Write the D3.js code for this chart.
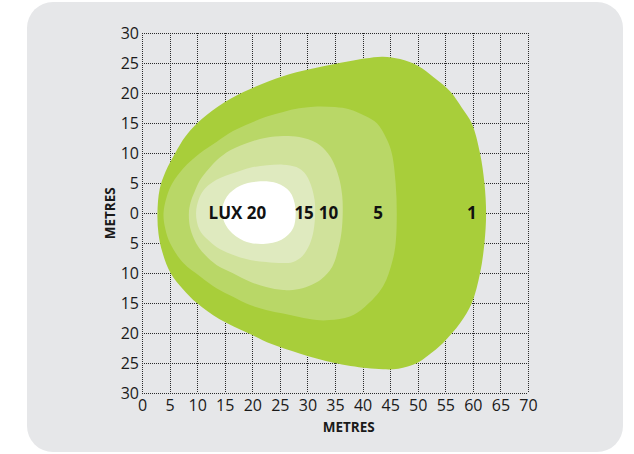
<!DOCTYPE html>
<html>
<head>
<meta charset="utf-8">
<script src="https://cdn.jsdelivr.net/npm/d3@7/dist/d3.min.js"></script>
<style>
  html, body { margin: 0; padding: 0; background: #ffffff; }
  svg { display: block; }
  .tick-label { font-family: "Open Sans", sans-serif; font-size: 16px; fill: #1a1a1a; }
  .axis-title { font-family: "Open Sans", sans-serif; font-size: 13.5px; font-weight: 700; fill: #1a1a1a; }
  .lux-label { font-family: "Open Sans", sans-serif; font-size: 17px; font-weight: 700; fill: #111; }
</style>
</head>
<body>
<svg id="chart" width="634" height="454"></svg>
<script>
// Axis ticks (metres)
const xTicks = [0, 5, 10, 15, 20, 25, 30, 35, 40, 45, 50, 55, 60, 65, 70];
const yTicks = [30, 25, 20, 15, 10, 5, 0, -5, -10, -15, -20, -25, -30];

// Illuminance levels, outermost first
const luxLevels = [1, 5, 10, 15, 20];
const luxColors = ["#a8ce3a", "#b9d767", "#d0e29b", "#dfeabf", "#ffffff"];

// Isolux contour outlines, [distance ahead, lateral offset] in metres
const lux1 = [[2.8,0],[3.2,4],[4.3,7],[6,10],[7.8,12.7],[10,15],[13.8,17.8],[18.4,20.2],[23,22],[28,23.5],[34.5,24.8],[40.4,25.8],[43.7,26.1],[46.8,25.7],[50,24.6],[53,22.6],[55.9,20.3],[58,17.6],[59.8,15],[61.3,10],[62.1,5],[62.4,0],[62.1,-5],[61.3,-10],[59.8,-15],[57.7,-18.3],[54.6,-21.6],[52,-23.6],[49.8,-25],[46.5,-25.9],[43.7,-26],[40.7,-25.8],[34.7,-24.9],[28.7,-23.4],[23.5,-21.8],[19.3,-20],[14,-17.6],[10,-15],[7.4,-12.6],[5.2,-10],[3.7,-6.5],[3,-3.5]];
const lux5 = [[3.9,0],[4.5,2.8],[5.5,5],[7.5,7.5],[10.5,10],[13.5,11.9],[16.5,13.7],[19.6,15],[22.5,16.1],[25.6,16.9],[28.5,17.5],[31.7,17.8],[35,17.7],[37.7,17.3],[40.5,16.2],[42.6,15],[44.3,12.5],[45.3,10],[46,5],[46.2,0],[46,-5],[45.4,-8],[43.7,-12.2],[40.4,-15.6],[37.7,-17.2],[34,-17.8],[31.7,-17.8],[28.5,-17.3],[25.6,-16.7],[22.5,-16.1],[19.6,-15.3],[16.5,-13.9],[13.5,-12.5],[10.5,-10.5],[7.5,-8.3],[5.1,-5],[4.2,-2.5]];
const lux10 = [[8.5,0],[8.8,1.8],[9.5,3.5],[10.5,5.5],[12,7.3],[13.5,8.8],[16,10.5],[19.6,11.9],[22.5,12.6],[25.6,12.9],[28.5,12.7],[31.7,11.7],[33.7,10],[34.7,8.5],[35.7,6],[36.3,3],[36.4,0],[36.2,-3],[35.7,-5.5],[34.5,-8.9],[32.5,-11],[30.8,-11.9],[28.5,-12.6],[25.6,-12.8],[22.5,-12.3],[19.6,-11.4],[16.5,-10],[13.5,-8.6],[11.5,-7],[10.3,-5.7],[9.4,-4.2],[8.7,-2.3]];
const lux15 = [[9.8,0],[10.4,2.6],[11.5,4.2],[13.5,5.6],[16.9,6.8],[19.6,7.6],[22.7,8],[25.6,8.1],[28,7.7],[29.5,6.7],[30.6,4.8],[31.3,2.2],[31.4,0],[31.1,-3],[30.4,-5.2],[29.1,-7.1],[27.4,-8.1],[25.6,-8.3],[22.5,-8.1],[19.6,-7.8],[16.1,-6.8],[13.5,-5.6],[11.8,-4.3],[10.4,-2.7]];
const lux20 = [[14.5,0],[15.4,2.8],[17.8,4.6],[21,5.3],[24.5,5],[26.8,3.6],[27.8,1],[27.4,-2.5],[25.3,-4.4],[22,-5.1],[18.5,-4.6],[15.8,-2.8]];
const contours = [lux1, lux5, lux10, lux15, lux20];

// Label positions along the centre line (metres ahead)
const labelText = ["LUX 20", "15", "10", "5", "1"];
const labelX = [17.3, 29.4, 33.8, 42.8, 59.8];

const svg = d3.select("#chart");

// Rounded grey panel behind the plot
svg.append("rect")
  .attr("x", 27).attr("y", 2)
  .attr("width", 596).attr("height", 450)
  .attr("rx", 26).attr("ry", 26)
  .attr("fill", "#e6e7e9");

const x = d3.scaleLinear().domain([0, 70]).range([142, 528]);
const y = d3.scaleLinear().domain([-30, 30]).range([393.3, 33.3]);

// Dotted grid, including the frame lines
const grid = svg.append("g")
  .attr("stroke", "#2a2a2a")
  .attr("stroke-width", 1)
  .attr("stroke-dasharray", "1,1")
  .attr("shape-rendering", "crispEdges");

grid.selectAll("line.v").data(xTicks).join("line")
  .attr("class", "v")
  .attr("x1", d => Math.round(x(d)) + 0.5).attr("x2", d => Math.round(x(d)) + 0.5)
  .attr("y1", y(30)).attr("y2", y(-30));

grid.selectAll("line.h").data(yTicks).join("line")
  .attr("class", "h")
  .attr("y1", d => Math.round(y(d)) + 0.5).attr("y2", d => Math.round(y(d)) + 0.5)
  .attr("x1", x(0)).attr("x2", x(70));

// Isolux areas, drawn outermost first
const line = d3.line()
  .x(d => x(d[0]))
  .y(d => y(d[1]))
  .curve(d3.curveCatmullRomClosed.alpha(0.5));

svg.append("g").selectAll("path").data(contours).join("path")
  .attr("d", d => line(d))
  .attr("fill", (d, i) => luxColors[i]);

// Axes (labels only; the grid carries the lines)
const xAxis = d3.axisBottom(x).tickValues(xTicks).tickSize(0).tickPadding(0).tickFormat(d3.format("d"));
const gx = svg.append("g").attr("transform", `translate(0, ${y(-30) + 6})`).call(xAxis);
gx.select(".domain").remove();
gx.selectAll("text").attr("class", "tick-label").attr("dy", "0.71em").attr("fill", null).attr("y", 0);

const yAxis = d3.axisLeft(y).tickValues(yTicks).tickSize(0).tickPadding(3).tickFormat(d => Math.abs(d));
const gy = svg.append("g").attr("transform", `translate(${x(0)}, 0)`).call(yAxis);
gy.select(".domain").remove();
gy.selectAll("text").attr("class", "tick-label").attr("fill", null);

// Axis titles
svg.append("text")
  .attr("class", "axis-title")
  .attr("x", x(37.5)).attr("y", 432)
  .attr("text-anchor", "middle")
  .text("METRES");

svg.append("text")
  .attr("class", "axis-title")
  .attr("transform", `translate(115, ${y(0)}) rotate(-90)`)
  .attr("text-anchor", "middle")
  .text("METRES");

// Lux labels along the beam axis
svg.append("g").selectAll("text").data(labelText).join("text")
  .attr("class", "lux-label")
  .attr("x", (d, i) => x(labelX[i]))
  .attr("y", y(0))
  .attr("dy", "0.35em")
  .attr("text-anchor", "middle")
  .text(d => d);
</script>
</body>
</html>
